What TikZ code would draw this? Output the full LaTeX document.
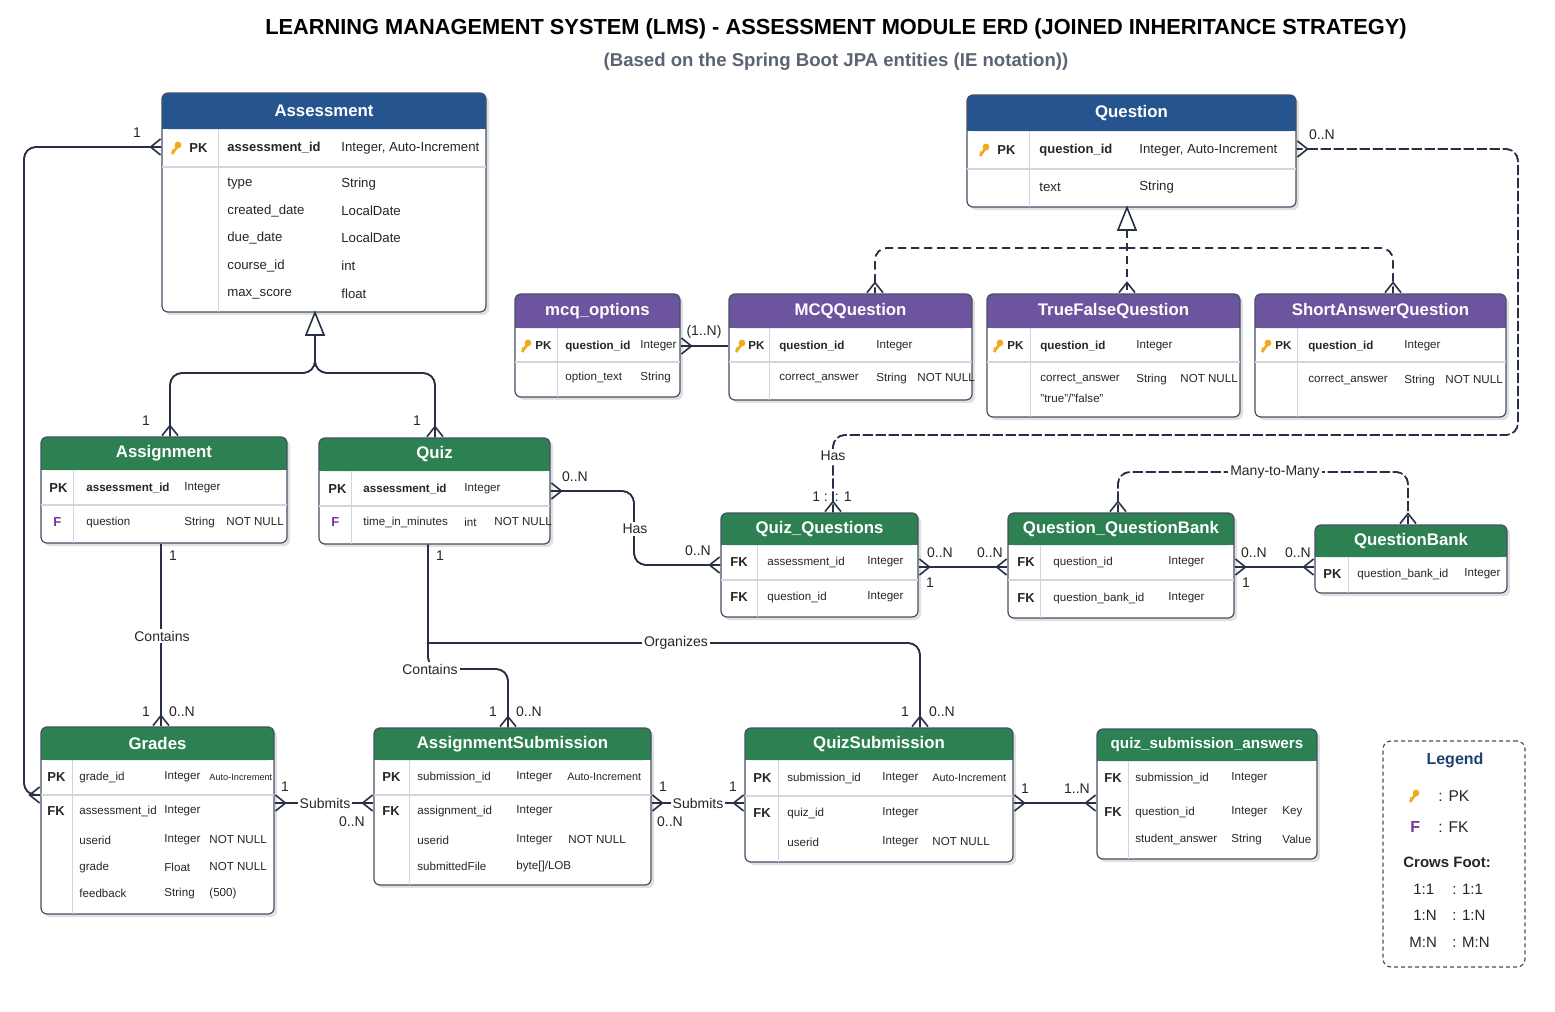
\documentclass[tikz,border=0pt]{standalone}
\usepackage{fontspec}
\setmainfont{Liberation Sans}
\usetikzlibrary{arrows.meta,fit,calc}
\definecolor{blueh}{RGB}{38,84,142}
\definecolor{purh}{RGB}{108,84,158}
\definecolor{grnh}{RGB}{44,128,82}
\definecolor{bord}{RGB}{70,80,100}
\definecolor{gridc}{RGB}{210,214,220}
\definecolor{lnc}{RGB}{40,48,70}
\definecolor{keyc}{RGB}{240,170,30}
\definecolor{fkc}{RGB}{120,50,160}
\definecolor{subc}{RGB}{90,100,115}
\newcounter{cc}
\newcommand\tx[4][]{\stepcounter{cc}\node[cell,#1] (c\arabic{cc}) at (#2,#3) {#4};}
\newcommand\ent[8]{%
  \fill[black!12,rounded corners=3pt] (#2+3,#3+3) rectangle (#4+3,#5+3);
  \fill[white,rounded corners=3pt] (#2,#3) rectangle (#4,#5);
  \fill[#7,rounded corners=3pt] (#2,#3) rectangle (#4,#6);
  \fill[#7] (#2,#6-6) rectangle (#4,#6);
  \node[fit={(#2,#3)(#4,#5)},inner sep=0pt,draw=bord,line width=0.6pt,rounded corners=3pt] (#1) {};
  \node[hdr] (#1t) at ({(#2+#4)/2},{(#3+#6)/2}) {#8};
}
\newcommand\vl[4]{\draw[gridc,line width=0.5pt] (#1,#2)--(#1,#3);}
\newcommand\hl[3]{\draw[gridc,line width=0.7pt] (#1,#3)--(#2,#3);}
\tikzset{
  x=0.5pt,y=-0.5pt,
  cell/.style={anchor=west,inner sep=0pt,font=\fontsize{6.6}{8}\selectfont,text=black!85},
  sm/.style={font=\fontsize{5.8}{7}\selectfont},
  b/.style={font=\fontsize{6.5}{8}\selectfont\bfseries},
  bs/.style={font=\fontsize{5.8}{7}\selectfont\bfseries},
  hdr/.style={text=white,font=\fontsize{8.4}{10}\selectfont\bfseries},
  conn/.style={draw=lnc,line width=0.8pt},
  dsh/.style={conn,dash pattern=on 4pt off 2.5pt},
  cft/.tip={Straight Barb[reversed,length=5pt,width=8pt]},
  many/.style={-cft,postaction={draw,-}},
  many2/.style={cft-cft,postaction={draw,-}},
  lab/.style={font=\fontsize{7}{8}\selectfont,text=black!85,inner sep=1pt},
  labw/.style={lab,fill=white},
  key/.pic={\fill[keyc] (2,-3) circle (3.4); \draw[keyc,line width=1.3pt] (1,-1)--(-4,6); \draw[keyc,line width=1pt] (-2,3)--(-4,2);},
}
\begin{document}
\begin{tikzpicture}
\useasboundingbox[fill=white] (0,0) rectangle (1555,1012);
\node[font=\fontsize{10.9}{13}\selectfont\bfseries] (title) at (836,29) {LEARNING MANAGEMENT SYSTEM (LMS) - ASSESSMENT MODULE ERD (JOINED INHERITANCE STRATEGY)};
\node[font=\fontsize{9.3}{11}\selectfont\bfseries,text=subc] (sub) at (836,62) {(Based on the Spring Boot JPA entities (IE notation))};

% ---------- Assessment
\ent{assess}{162}{93}{486}{312}{129}{blueh}{Assessment}
\vl{218}{129}{312}\vl{332}{129}{312}\hl{162}{486}{167}
\pic at (176,148) {key};
\tx[b]{189}{148}{PK}\tx[b]{227}{148}{assessment\_id}\tx{341}{148}{Integer, Auto-Increment}
\tx{227}{184}{type}\tx{341}{184}{String}
\tx{227}{211}{created\_date}\tx{341}{211}{LocalDate}
\tx{227}{238}{due\_date}\tx{341}{238}{LocalDate}
\tx{227}{266}{course\_id}\tx{341}{266}{int}
\tx{227}{294}{max\_score}\tx{341}{294}{float}

% ---------- Question
\ent{quest}{967}{95}{1296}{207}{131}{blueh}{Question}
\vl{1029}{131}{207}\vl{1129}{131}{207}\hl{967}{1296}{169}
\pic at (984,150) {key};
\tx[b]{997}{150}{PK}\tx[b]{1039}{150}{question\_id}\tx{1139}{150}{Integer, Auto-Increment}
\tx{1039}{187}{text}\tx{1139}{187}{String}

% ---------- mcq_options
\ent{mcqo}{515}{294}{680}{397}{328}{purh}{mcq\_options}
\vl{557}{328}{397}\vl{635}{328}{397}\hl{515}{680}{362}
\pic at (526,346) {key};
\tx[bs]{535}{346}{PK}\tx[bs]{565}{346}{question\_id}\tx[sm]{640}{346}{Integer}
\tx[sm]{565}{377}{option\_text}\tx[sm]{640}{377}{String}

% ---------- MCQQuestion
\ent{mcq}{729}{294}{972}{400}{328}{purh}{MCQQuestion}
\vl{769}{328}{400}\vl{867}{328}{400}\hl{729}{972}{362}
\pic at (740,346) {key};
\tx[bs]{748}{346}{PK}\tx[bs]{779}{346}{question\_id}\tx[sm]{876}{346}{Integer}
\tx[sm]{779}{378}{correct\_answer}\tx[sm]{876}{378}{String}\tx[sm]{917}{378}{NOT NULL}

% ---------- TrueFalseQuestion
\ent{tfq}{987}{294}{1240}{417}{328}{purh}{TrueFalseQuestion}
\vl{1030}{328}{417}\vl{1127}{328}{417}\hl{987}{1240}{362}
\pic at (998,346) {key};
\tx[bs]{1007}{346}{PK}\tx[bs]{1040}{346}{question\_id}\tx[sm]{1136}{346}{Integer}
\tx[sm]{1040}{379}{correct\_answer}\tx[sm]{1136}{379}{String}\tx[sm]{1180}{379}{NOT NULL}
\tx[sm]{1040}{398}{"true"/"false"}

% ---------- ShortAnswerQuestion
\ent{saq}{1255}{294}{1506}{417}{328}{purh}{ShortAnswerQuestion}
\vl{1297}{328}{417}\vl{1396}{328}{417}\hl{1255}{1506}{362}
\pic at (1266,346) {key};
\tx[bs]{1275}{346}{PK}\tx[bs]{1308}{346}{question\_id}\tx[sm]{1404}{346}{Integer}
\tx[sm]{1308}{380}{correct\_answer}\tx[sm]{1404}{380}{String}\tx[sm]{1445}{380}{NOT NULL}

% ---------- Assignment
\ent{assign}{41}{437}{287}{543}{470}{grnh}{Assignment}
\vl{73}{470}{543}\vl{176}{470}{543}\hl{41}{287}{505}
\tx[b]{49}{488}{PK}\tx[bs]{86}{488}{assessment\_id}\tx[sm]{184}{488}{Integer}
\tx[b,text=fkc]{53}{522}{F}\tx[sm]{86}{522}{question}\tx[sm]{184}{522}{String}\tx[sm]{226}{522}{NOT NULL}

% ---------- Quiz
\ent{quiz}{319}{438}{550}{544}{471}{grnh}{Quiz}
\vl{351}{471}{544}\vl{456}{471}{544}\hl{319}{550}{506}
\tx[b]{328}{489}{PK}\tx[bs]{363}{489}{assessment\_id}\tx[sm]{464}{489}{Integer}
\tx[b,text=fkc]{331}{522}{F}\tx[sm]{363}{522}{time\_in\_minutes}\tx[sm]{464}{522}{int}\tx[sm]{494}{522}{NOT NULL}

% ---------- Quiz_Questions
\ent{qq}{721}{513}{918}{617}{545}{grnh}{Quiz\_Questions}
\vl{757}{545}{617}\vl{858}{545}{617}\hl{721}{918}{580}
\tx[b]{730}{562}{FK}\tx[sm]{767}{562}{assessment\_id}\tx[sm]{867}{562}{Integer}
\tx[b]{730}{597}{FK}\tx[sm]{767}{597}{question\_id}\tx[sm]{867}{597}{Integer}

% ---------- Question_QuestionBank
\ent{qqb}{1008}{513}{1234}{618}{545}{grnh}{Question\_QuestionBank}
\vl{1040}{545}{618}\vl{1160}{545}{618}\hl{1008}{1234}{580}
\tx[b]{1017}{562}{FK}\tx[sm]{1053}{562}{question\_id}\tx[sm]{1168}{562}{Integer}
\tx[b]{1017}{598}{FK}\tx[sm]{1053}{598}{question\_bank\_id}\tx[sm]{1168}{598}{Integer}

% ---------- QuestionBank
\ent{qb}{1315}{525}{1507}{593}{557}{grnh}{QuestionBank}
\vl{1348}{557}{593}\vl{1457}{557}{593}
\tx[b]{1323}{574}{PK}\tx[sm]{1357}{574}{question\_bank\_id}\tx[sm]{1464}{574}{Integer}

% ---------- Grades
\ent{grades}{41}{727}{274}{914}{760}{grnh}{Grades}
\vl{72}{760}{914}\vl{157}{760}{914}\hl{41}{274}{795}
\tx[b]{47}{777}{PK}\tx[sm]{79}{777}{grade\_id}\tx[sm]{164}{777}{Integer}\tx[font=\fontsize{4.6}{6}\selectfont]{209}{777}{Auto-Increment}
\tx[b]{47}{811}{FK}\tx[sm]{79}{811}{assessment\_id}\tx[sm]{164}{811}{Integer}
\tx[sm]{79}{840}{userid}\tx[sm]{164}{840}{Integer}\tx[sm]{209}{840}{NOT NULL}
\tx[sm]{79}{867}{grade}\tx[sm]{164}{867}{Float}\tx[sm]{209}{867}{NOT NULL}
\tx[sm]{79}{893}{feedback}\tx[sm]{164}{893}{String}\tx[sm]{209}{893}{(500)}

% ---------- AssignmentSubmission
\ent{asub}{374}{728}{651}{885}{760}{grnh}{AssignmentSubmission}
\vl{409}{760}{885}\vl{508}{760}{885}\hl{374}{651}{795}
\tx[b]{382}{777}{PK}\tx[sm]{417}{777}{submission\_id}\tx[sm]{516}{777}{Integer}\tx[font=\fontsize{5.4}{7}\selectfont]{567}{777}{Auto-Increment}
\tx[b]{382}{811}{FK}\tx[sm]{417}{811}{assignment\_id}\tx[sm]{516}{811}{Integer}
\tx[sm]{417}{840}{userid}\tx[sm]{516}{840}{Integer}\tx[sm]{568}{840}{NOT NULL}
\tx[sm]{417}{866}{submittedFile}\tx[sm]{516}{866}{byte[]/LOB}

% ---------- QuizSubmission
\ent{qsub}{745}{728}{1013}{862}{760}{grnh}{QuizSubmission}
\vl{778}{760}{862}\vl{874}{760}{862}\hl{745}{1013}{796}
\tx[b]{753}{778}{PK}\tx[sm]{787}{778}{submission\_id}\tx[sm]{882}{778}{Integer}\tx[font=\fontsize{5.4}{7}\selectfont]{932}{778}{Auto-Increment}
\tx[b]{753}{813}{FK}\tx[sm]{787}{813}{quiz\_id}\tx[sm]{882}{813}{Integer}
\tx[sm]{787}{842}{userid}\tx[sm]{882}{842}{Integer}\tx[sm]{932}{842}{NOT NULL}

% ---------- quiz_submission_answers
\ent{qsa}{1097}{729}{1317}{859}{761}{grnh}{\fontsize{7.6}{9}\selectfont quiz\_submission\_answers}
\vl{1128}{761}{859}\vl{1224}{761}{859}
\tx[b]{1104}{778}{FK}\tx[sm]{1135}{778}{submission\_id}\tx[sm]{1231}{778}{Integer}
\tx[b]{1104}{812}{FK}\tx[sm]{1135}{812}{question\_id}\tx[sm]{1231}{812}{Integer}\tx[sm]{1282}{812}{Key}
\tx[sm]{1135}{839}{student\_answer}\tx[sm]{1231}{839}{String}\tx[sm]{1282}{839}{Value}

% ---------- Legend
\node[fit={(1383,741)(1525,967)},inner sep=0pt,draw=bord,dash pattern=on 2pt off 1.5pt,rounded corners=4pt,line width=0.6pt] (legend) {};
\node[font=\fontsize{8}{9}\selectfont\bfseries,text=blueh!80!black] (legt) at (1455,760) {Legend};
\pic at (1414,796) {key};
\tx[font=\fontsize{7.8}{9}\selectfont]{1438}{796}{: PK}
\tx[font=\fontsize{8}{9}\selectfont\bfseries,text=fkc]{1410}{827}{F}
\tx[font=\fontsize{7.8}{9}\selectfont]{1438}{827}{: FK}
\tx[font=\fontsize{7.5}{9}\selectfont\bfseries]{1403}{862}{Crows Foot:}
\tx[font=\fontsize{7.5}{9}\selectfont]{1413}{889}{1:1}\tx[font=\fontsize{7.5}{9}\selectfont]{1452}{889}{: 1:1}
\tx[font=\fontsize{7.5}{9}\selectfont]{1413}{915}{1:N}\tx[font=\fontsize{7.5}{9}\selectfont]{1452}{915}{: 1:N}
\tx[font=\fontsize{7.5}{9}\selectfont]{1409}{942}{M:N}\tx[font=\fontsize{7.5}{9}\selectfont]{1452}{942}{: M:N}

% ---------- Connectors
% Assessment inheritance
\draw[conn,fill=white] (assess.south -| 315,0) -- (306,335) -- (324,335) -- cycle;
\coordinate (inhA) at (315,335);
\draw[conn,many,rounded corners=6pt] (inhA) -- (315,373) -- (170,373) -- (assign.north -| 170,0);
\draw[conn,many,rounded corners=6pt] (inhA) -- (315,373) -- (435,373) -- (quiz.north -| 435,0);
\node[lab] (l1) at (146,421) {1};
\node[lab] (l2) at (417,421) {1};

% Grades -> Assessment
\draw[conn,many2,rounded corners=6pt] (grades.west |- 0,795) -- (24,795) -- (24,147) -- (assess.west |- 0,147);
\node[lab] (l3) at (137,133) {1};

% Assignment -> Grades
\draw[conn,many] (assign.south -| 161,0) -- (grades.north -| 161,0);
\node[labw] (l4) at (162,636) {Contains};
\node[lab] (l5) at (173,556) {1};
\node[lab] (l6) at (146,712) {1};
\node[lab] (l7) at (182,712) {0..N};

% Quiz -> AssignmentSubmission / QuizSubmission
\draw[conn,many,rounded corners=6pt] (quiz.south -| 428,0) -- (428,669) -- (508,669) -- (asub.north -| 508,0);
\draw[conn,many,rounded corners=6pt] (428,643) -- (920,643) -- (qsub.north -| 920,0);
\node[labw] (l8) at (430,669) {Contains};
\node[labw] (l9) at (676,643) {Organizes};
\node[lab] (l10) at (440,556) {1};
\node[lab] (l11) at (493,712) {1};
\node[lab] (l12) at (529,712) {0..N};
\node[lab] (l13) at (905,712) {1};
\node[lab] (l14) at (942,712) {0..N};

% Quiz -> Quiz_Questions
\draw[conn,many2,rounded corners=6pt] (quiz.east |- 0,491) -- (634,491) -- (634,565) -- (qq.west |- 0,565);
\node[lab] (l15) at (575,477) {0..N};
\node[labw] (l16) at (635,529) {Has};
\node[lab] (l17) at (698,551) {0..N};

% Quiz_Questions -> Question (dashed)
\draw[dsh,many2,rounded corners=6pt] (qq.north -| 833,0) -- (833,435) -- (1518,435) -- (1518,149) -- (quest.east |- 0,149);
\node[labw] (l18) at (833,456) {Has};
\node[lab] (l19) at (832,497) {1 :\phantom{x}: 1};
\node[lab] (l20) at (1322,135) {0..N};

% Question inheritance (dashed)
\draw[conn,fill=white] (quest.south -| 1127,0) -- (1118,230) -- (1136,230) -- cycle;
\coordinate (inhQ) at (1127,230);
\draw[dsh,many] (inhQ) -- (tfq.north -| 1127,0);
\draw[dsh,many,rounded corners=6pt] (1127,248) -- (875,248) -- (mcq.north -| 875,0);
\draw[dsh,many,rounded corners=6pt] (1127,248) -- (1393,248) -- (saq.north -| 1393,0);

% mcq_options -> MCQQuestion
\draw[conn,cft-,postaction={draw,-}] (mcqo.east |- 0,346) -- (mcq.west |- 0,346);
\node[lab] (l21) at (704,332) {(1..N)};

% Quiz_Questions -> Question_QuestionBank
\draw[conn,many2] (qq.east |- 0,567) -- (qqb.west |- 0,567);
\node[lab] (l22) at (940,553) {0..N};
\node[lab] (l23) at (990,553) {0..N};
\node[lab] (l24) at (930,583) {1};
% QQB -> QuestionBank
\draw[conn,many2] (qqb.east |- 0,567) -- (qb.west |- 0,567);
\node[lab] (l25) at (1254,553) {0..N};
\node[lab] (l26) at (1298,553) {0..N};
\node[lab] (l27) at (1246,583) {1};
% Many-to-Many
\draw[dsh,many2,rounded corners=6pt] (qqb.north -| 1118,0) -- (1118,472) -- (1408,472) -- (qb.north -| 1408,0);
\node[labw] (l28) at (1275,472) {Many-to-Many};

% Submits
\draw[conn,many2] (grades.east |- 0,803) -- (asub.west |- 0,803);
\node[labw] (l29) at (325,803) {Submits};
\node[lab] (l30) at (285,787) {1};
\node[lab] (l31) at (352,822) {0..N};
\draw[conn,many2] (asub.east |- 0,803) -- (qsub.west |- 0,803);
\node[labw] (l32) at (698,803) {Submits};
\node[lab] (l33) at (663,787) {1};
\node[lab] (l34) at (670,822) {0..N};
\node[lab] (l35) at (733,787) {1};
% QuizSubmission -> answers
\draw[conn,many2] (qsub.east |- 0,803) -- (qsa.west |- 0,803);
\node[lab] (l36) at (1025,789) {1};
\node[lab] (l37) at (1077,789) {1..N};
\end{tikzpicture}
\end{document}
